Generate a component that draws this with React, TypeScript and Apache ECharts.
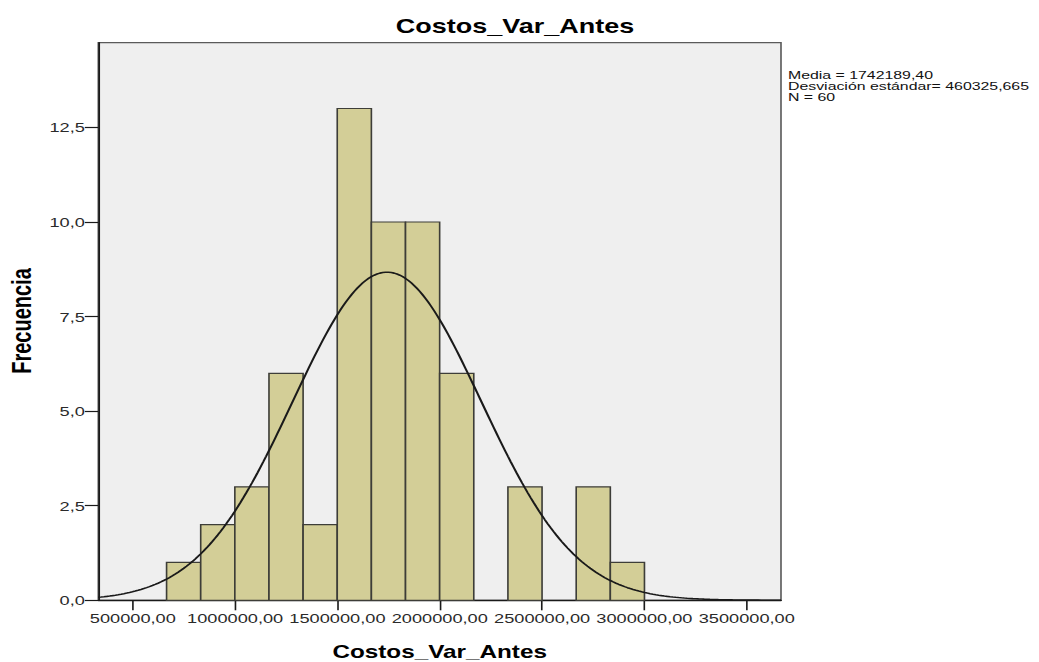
import React, { useEffect, useRef } from "react";
import * as echarts from "echarts";

// ---- Data ----
const binCounts = [1, 2, 3, 6, 2, 13, 10, 10, 6, 0, 3, 0, 3, 1];
const BIN_START = 665000;
const BIN_WIDTH = 166800;
const xTickValues = [500000, 1000000, 1500000, 2000000, 2500000, 3000000, 3500000];
const yTickValues = [0, 2.5, 5, 7.5, 10, 12.5];
const X_MIN = 331400;
const X_MAX = 3667400;
const Y_MAX = 14.74;
const MEAN = 1742189.4;
const SD = 460325.665;
const N = 60;
const statLines = ["Media = 1742189,40", "Desviación estándar= 460325,665", "N = 60"];
const TITLE = "Costos_Var_Antes";
const X_NAME = "Costos_Var_Antes";
const Y_NAME = "Frecuencia";

// Layout: the reference is horizontally stretched, reproduce by scaling.
const FULL_W = 1039;
const FULL_H = 662;
const INNER_W = 770;
const SX = FULL_W / INNER_W;

const FONT = "'Liberation Sans', Arial, Helvetica, sans-serif";

export default function App() {
  const ref = useRef<HTMLDivElement>(null);

  useEffect(() => {
    if (!ref.current) return;
    const chart = echarts.init(ref.current, null, { renderer: "svg" });

    const bars = binCounts
      .map((c, i) => [BIN_START + i * BIN_WIDTH, BIN_START + (i + 1) * BIN_WIDTH, c])
      .filter((d) => d[2] > 0);

    // Fitted normal curve from stated mean / sd / N and bin width
    const curve: number[][] = [];
    const steps = 240;
    for (let k = 0; k <= steps; k++) {
      const x = X_MIN + ((X_MAX - X_MIN) * k) / steps;
      const z = (x - MEAN) / SD;
      const y = (N * BIN_WIDTH) / (SD * Math.sqrt(2 * Math.PI)) * Math.exp(-0.5 * z * z);
      curve.push([x, y]);
    }

    const gridLeft = 98.3 / SX;
    const gridRightEdge = 781 / SX;
    const gridCenter = (gridLeft + gridRightEdge) / 2;

    chart.setOption({
      animation: false,
      backgroundColor: "#ffffff",
      grid: {
        left: gridLeft,
        right: INNER_W - gridRightEdge,
        top: 42.7,
        bottom: FULL_H - 600.3,
        show: true,
        backgroundColor: "#efefef",
        borderColor: "#5a5a5a",
        borderWidth: 1.2,
      },
      xAxis: {
        type: "value",
        min: X_MIN,
        max: X_MAX,
        axisLine: { show: true, lineStyle: { color: "#1a1a1a", width: 1.3 } },
        axisTick: {
          show: true,
          length: 10,
          customValues: xTickValues,
          lineStyle: { color: "#1a1a1a", width: 1.2 },
        },
        axisLabel: {
          customValues: xTickValues,
          formatter: (v: number) => v.toFixed(2).replace(".", ","),
          fontFamily: FONT,
          fontSize: 13.5,
          color: "#2a2a2a",
          margin: 11,
        },
        splitLine: { show: false },
      },
      yAxis: {
        type: "value",
        min: 0,
        max: Y_MAX,
        axisLine: { show: true, lineStyle: { color: "#1a1a1a", width: 1.3 } },
        axisTick: {
          show: true,
          length: 10,
          customValues: yTickValues,
          lineStyle: { color: "#1a1a1a", width: 1.2 },
        },
        axisLabel: {
          customValues: yTickValues,
          formatter: (v: number) => v.toFixed(1).replace(".", ","),
          fontFamily: FONT,
          fontSize: 13.5,
          color: "#2a2a2a",
          margin: 10,
        },
        splitLine: { show: false },
      },
      graphic: [
        {
          type: "text",
          x: 515 / SX,
          y: 26,
          style: {
            text: TITLE,
            font: `bold 20px ${FONT}`,
            fill: "#000",
            textAlign: "center",
            textVerticalAlign: "middle",
          },
        },
        {
          type: "text",
          x: gridCenter,
          y: 652,
          style: {
            text: X_NAME,
            font: `bold 18px ${FONT}`,
            fill: "#000",
            textAlign: "center",
            textVerticalAlign: "middle",
          },
        },
        {
          type: "text",
          x: 21.5 / SX,
          y: 321,
          rotation: Math.PI / 2,
          style: {
            text: Y_NAME,
            font: `bold 20px ${FONT}`,
            fill: "#000",
            textAlign: "center",
            textVerticalAlign: "middle",
          },
        },
        {
          type: "text",
          x: 788 / SX,
          y: 69.5,
          scaleX: 1.12,
          style: {
            text: statLines.join("\n"),
            font: `10.5px ${FONT}`,
            lineHeight: 11,
            fill: "#111",
            textAlign: "left",
            textVerticalAlign: "top",
          },
        },
      ],
      series: [
        {
          type: "custom",
          name: "Frecuencia",
          data: bars,
          encode: { x: [0, 1], y: 2 },
          renderItem: (params: any, api: any) => {
            const p0 = api.coord([api.value(0), api.value(2)]);
            const p1 = api.coord([api.value(1), 0]);
            return {
              type: "rect",
              shape: { x: p0[0], y: p0[1], width: p1[0] - p0[0], height: p1[1] - p0[1] },
              style: { fill: "#d3ce97", stroke: "#3d3d38", lineWidth: 1.2 },
            };
          },
          z: 2,
        },
        {
          type: "line",
          name: "Normal",
          data: curve,
          showSymbol: false,
          smooth: false,
          lineStyle: { color: "#1a1a1a", width: 1.6 },
          z: 3,
        },
      ],
    });

    return () => chart.dispose();
  }, []);

  return (
    <div
      style={{
        position: "fixed",
        left: 0,
        top: 0,
        width: FULL_W,
        height: FULL_H,
        overflow: "hidden",
        background: "#fff",
      }}
    >
      <div
        ref={ref}
        style={{
          width: INNER_W,
          height: FULL_H,
          transform: `scaleX(${SX})`,
          transformOrigin: "0 0",
        }}
      />
    </div>
  );
}
